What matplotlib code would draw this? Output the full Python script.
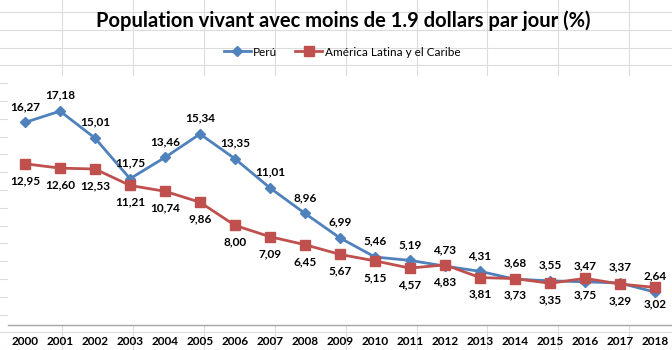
import matplotlib
matplotlib.use("Agg")
import matplotlib.pyplot as plt
from matplotlib.lines import Line2D

years = [str(y) for y in range(2000, 2019)]
peru = [16.27, 17.18, 15.01, 11.75, 13.46, 15.34, 13.35, 11.01, 8.96, 6.99,
        5.46, 5.19, 4.73, 4.31, 3.68, 3.55, 3.47, 3.37, 2.64]
alc = [12.95, 12.60, 12.53, 11.21, 10.74, 9.86, 8.00, 7.09, 6.45, 5.67,
       5.15, 4.57, 4.83, 3.81, 3.73, 3.35, 3.75, 3.29, 3.02]

title = "Population vivant avec moins de 1.9 dollars par jour (%)"
blue = "#4F81BD"
red = "#C0504D"

plt.rcParams['font.family'] = ['Lato', 'DejaVu Sans']

W, H = 672, 350
fig = plt.figure(figsize=(W / 100, H / 100), dpi=100)

# spreadsheet cell grid behind the transparent chart area
grid_c = "#dcdcdc"
for k in range(-1, 11):
    x = 62 + 70.9 * k
    fig.add_artist(Line2D([x / W, x / W], [0, 1], color=grid_c, lw=0.8, zorder=0))
for k in range(0, 20):
    y = 12 + 17.8 * k
    fig.add_artist(Line2D([0, 1], [1 - y / H, 1 - y / H], color=grid_c, lw=0.8, zorder=0))

ax = fig.add_axes([7.5 / W, 25 / H, 665 / W, 249 / H])
ax.set_facecolor("white")
ax.set_zorder(1)

xs = range(len(years))
ax.plot(xs, peru, color=blue, lw=2, marker="D", ms=5.5, label="Perú", zorder=3)
ax.plot(xs, alc, color=red, lw=2, marker="s", ms=6.5, label="América Latina y el Caribe", zorder=3)

for i, v in enumerate(peru):
    ax.annotate(f"{v:.2f}".replace(".", ","), (i, v), xytext=(0, 11.5),
                textcoords="offset points", ha="center", va="center",
                fontsize=8.5, fontweight="bold", color="black")
for i, v in enumerate(alc):
    ax.annotate(f"{v:.2f}".replace(".", ","), (i, v), xytext=(0, -12),
                textcoords="offset points", ha="center", va="center",
                fontsize=8.5, fontweight="bold", color="black")

ax.set_xlim(-0.5, len(years) - 0.5)
ax.set_ylim(0, 20)
ax.set_yticks([])
ax.set_xticks(list(xs))
ax.set_xticklabels(years, fontsize=8.5, fontweight="bold")
ax.tick_params(axis="x", length=0, pad=8)
for s in ["top", "right", "left"]:
    ax.spines[s].set_visible(False)
ax.spines["bottom"].set_color("#a6a6a6")
ax.spines["bottom"].set_linewidth(1)

fig.text(343 / W, 1 - 21 / H, title, ha="center", va="center",
         fontsize=14.5, fontweight="bold")
fig.legend(loc="center", bbox_to_anchor=(342 / W, 1 - 52 / H), ncol=2,
           frameon=False, fontsize=8.5, handlelength=2.3, columnspacing=1.5,
           handletextpad=0.2)

fig.savefig("out.png", dpi=100)
